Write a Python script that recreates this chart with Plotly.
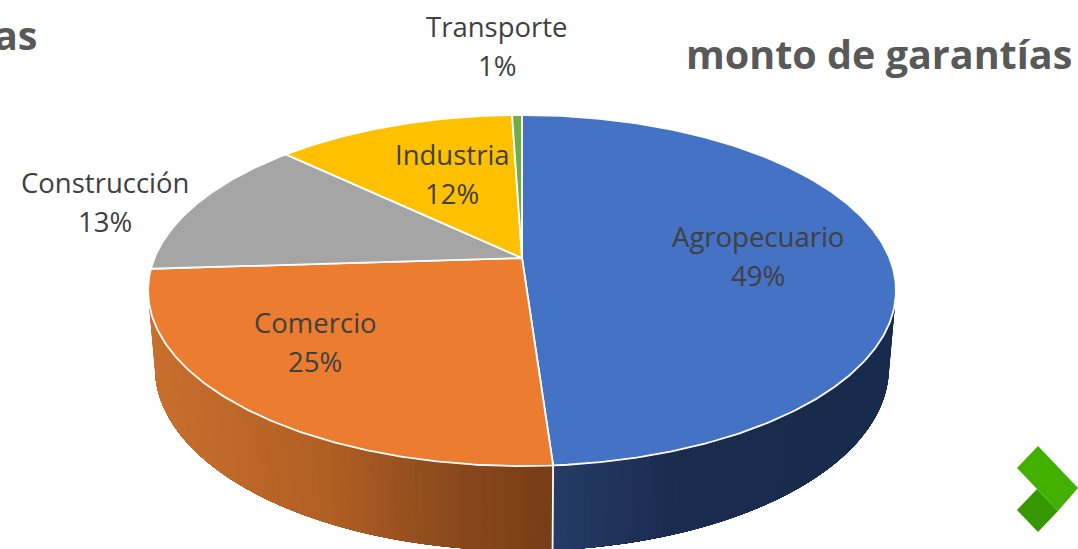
import numpy as np
import plotly.graph_objects as go

# ---- data ----
categories = ["Agropecuario", "Comercio", "Construcción", "Industria", "Transporte"]
shares = [48.9, 25.1, 13.1, 12.39, 0.51]

# ---- styles / layout ----
colors = ["#4472C4", "#EB7C30", "#A5A5A5", "#FFC000", "#70AD47"]
label_pos = [(757.5, 236), (315, 322), (105, 182), (452, 154), (497, 26)]
LINE_GAP = 39
TEXT_FONT = "Open Sans"
W, H = 1078, 549
K = 65 / 351
TOP = dict(cx=522, ay=258, a=169.5, b=367.5)
LOW = dict(cx=522, ay=334, a=176.6, b=360.6)


def proj(theta, g):
    u, v = np.sin(theta), np.cos(theta)
    d = 1 + K * v
    return g["cx"] + g["b"] * u / d, g["ay"] - g["a"] * v / d


def lerp_color(stops, x):
    xs = [s[0] for s in stops]
    rgb = [np.interp(x, xs, [s[1][i] for s in stops]) for i in range(3)]
    return "rgb(%d,%d,%d)" % tuple(int(c) for c in rgb)


wall_stops = {
    0: [(553, (38, 60, 104)), (680, (27, 44, 79)), (896, (25, 43, 77))],
    1: [(150, (201, 112, 46)), (330, (178, 95, 36)), (450, (140, 74, 29)), (553, (120, 62, 23))],
}

fractions = np.cumsum([0] + shares) / sum(shares)
angles = fractions * 2 * np.pi
fig = go.Figure()


def poly(xs, ys, fill, line_color, width):
    fig.add_trace(go.Scatter(x=xs, y=ys, mode="lines", fill="toself", fillcolor=fill,
                             line=dict(color=line_color, width=width),
                             hoverinfo="skip", showlegend=False))


# side walls (front part of the first two slices); each strip runs on to the slice end,
# so later strips paint over it and no seams show
VIS_START = np.radians(100.7)
for i in (0, 1):
    t0 = max(angles[i], VIS_START) if i == 0 else angles[i]
    t1 = angles[i + 1]
    edges = np.linspace(t0, t1, int((t1 - t0) / np.radians(1.0)) + 2)
    for a0 in edges[:-1]:
        t = np.linspace(a0, t1, 30)
        tx, ty = proj(t, TOP)
        lx, ly = proj(t[::-1], LOW)
        c = lerp_color(wall_stops[i], float(proj(a0, TOP)[0]))
        poly(list(tx) + list(lx) + [tx[0]], list(ty) + list(ly) + [ty[0]], c, c, 0)

# white edge between the two walls
bx0, by0 = proj(angles[1], TOP)
bx1, by1 = proj(angles[1], LOW)
fig.add_trace(go.Scatter(x=[bx0, bx1], y=[by0, by1], mode="lines",
                         line=dict(color="white", width=1.8),
                         hoverinfo="skip", showlegend=False))

# top faces
for i, c in enumerate(colors):
    t = np.linspace(angles[i], angles[i + 1], max(4, int(shares[i] * 6)))
    rx, ry = proj(t, TOP)
    xs = [TOP["cx"]] + list(rx) + [TOP["cx"]]
    ys = [TOP["ay"]] + list(ry) + [TOP["ay"]]
    poly(xs, ys, c, "white", 1.8)

# labels
annotations = []
for name, val, (lx, ly) in zip(categories, shares, label_pos):
    for txt, yy in ((name, ly), (f"{val:.0f}%", ly + LINE_GAP)):
        annotations.append(dict(x=lx, y=yy, xref="x", yref="y", text=txt, showarrow=False,
                                font=dict(family=TEXT_FONT, size=27.5, color="#404040"),
                                xanchor="center", yanchor="middle"))
annotations.append(dict(x=1073.5, y=54, xref="x", yref="y", text="<b>monto de garantías</b>",
                        showarrow=False, xanchor="right", yanchor="middle",
                        font=dict(family=TEXT_FONT, size=39.5, color="#595959")))
annotations.append(dict(x=40, y=35, xref="x", yref="y", text="<b>as</b>",
                        showarrow=False, xanchor="right", yanchor="middle",
                        font=dict(family=TEXT_FONT, size=39.5, color="#595959")))

# logo
shapes = [
    dict(type="path", xref="x", yref="y", line_width=0, fillcolor="#359800",
         path="M1037 489 L1058 511 L1038 532 L1017 510 Z"),
    dict(type="path", xref="x", yref="y", line_width=0, fillcolor="#43B000",
         path="M1038 446 L1017 468 L1058 511 L1078 488 Z"),
]

fig.update_layout(
    width=W, height=H, autosize=False,
    margin=dict(l=0, r=0, t=0, b=0),
    paper_bgcolor="white", plot_bgcolor="white",
    xaxis=dict(range=[0, W], visible=False, fixedrange=True),
    yaxis=dict(range=[H, 0], visible=False, fixedrange=True),
    annotations=annotations, shapes=shapes, showlegend=False,
)
fig.write_html("out.html", config={"displayModeBar": False, "responsive": False},
               post_script="document.body.style.margin='0';document.documentElement.style.overflow='hidden';")
